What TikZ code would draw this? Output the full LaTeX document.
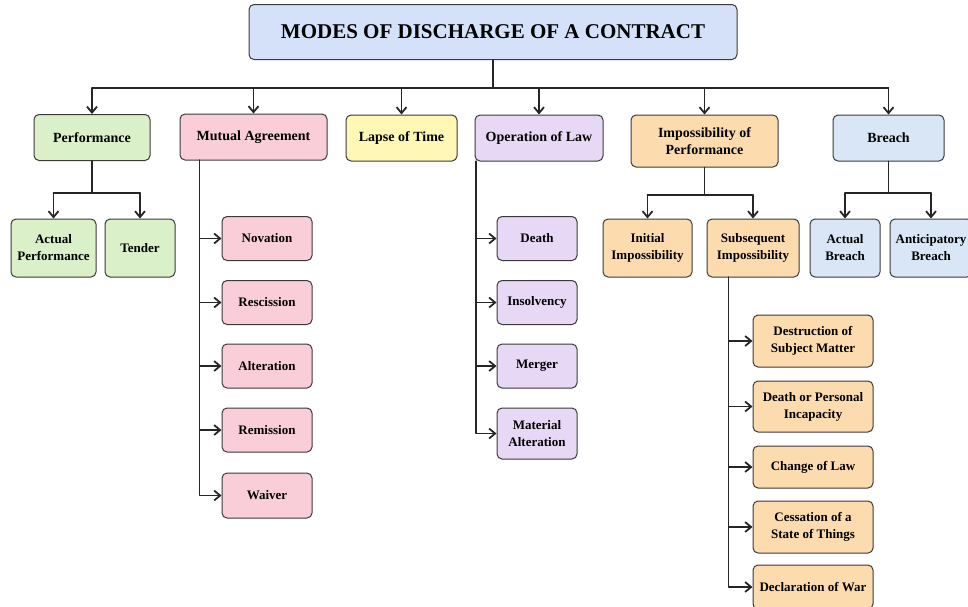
\documentclass[tikz,border=0pt]{standalone}
\usepackage{fontspec}
\setmainfont{Liberation Serif}
\usetikzlibrary{arrows.meta,calc}

\definecolor{titlefill}{HTML}{D5E1F8}
\definecolor{perffill}{HTML}{DAF0C8}
\definecolor{mutfill}{HTML}{F9CED8}
\definecolor{lapsefill}{HTML}{FFF7B5}
\definecolor{oplfill}{HTML}{E7D9F6}
\definecolor{impfill}{HTML}{FCDCAE}
\definecolor{brfill}{HTML}{D8E6F5}
\definecolor{edge}{HTML}{3A3A3A}

\tikzset{
  box/.style={draw=edge, line width=1pt, rounded corners=5pt, align=center,
    inner sep=2pt, font=\bfseries\fontsize{13}{17}\selectfont},
  head/.style={box, font=\bfseries\fontsize{14}{17}\selectfont},
  wire/.style={line width=1.8pt, draw=black!85},
  arr/.style={wire, -{Straight Barb[length=6pt,width=10pt]}},
}

\begin{document}
\begin{tikzpicture}[x=1pt, y=-1pt, line cap=round, line join=round]
  \useasboundingbox (0,0) rectangle (968,606);
  % Title and the six modes.
  \node[box, fill=titlefill, minimum width=488, minimum height=55,
    font=\bfseries\fontsize{21}{24}\selectfont] (title) at (493,32) {MODES OF DISCHARGE OF A CONTRACT};
  \node[head, fill=perffill, minimum width=116, minimum height=46] (perf) at (92,137.5) {Performance};
  \node[head, fill=mutfill, minimum width=147, minimum height=46] (mut) at (253.5,137) {Mutual Agreement};
  \node[head, fill=lapsefill, minimum width=111, minimum height=46] (lapse) at (401.5,138) {Lapse of Time};
  \node[head, fill=oplfill, minimum width=128, minimum height=46] (opl) at (539,138) {Operation of Law};
  \node[head, fill=impfill, minimum width=147, minimum height=52] (imp) at (704.5,141) {Impossibility of\\Performance};
  \node[head, fill=brfill, minimum width=111, minimum height=46] (breach) at (888.5,138) {Breach};
  \coordinate (bus) at (0,88);
  \draw[wire] (title.south) -- (title.south |- bus);
  \draw[wire] (perf.north |- bus) -- (breach.north |- bus);
  \foreach \n in {perf,mut,lapse,opl,imp,breach}
    \draw[arr] (\n.north |- bus) -- (\n.north);

  % Performance.
  \node[box, fill=perffill, minimum width=85, minimum height=58] (actperf) at (53.5,248) {Actual\\Performance};
  \node[box, fill=perffill, minimum width=70, minimum height=58] (tender) at (140,248) {Tender};
  \coordinate (pfork) at (0,193);
  \draw[wire] (perf.south) -- (perf.south |- pfork);
  \draw[wire] (actperf.north |- pfork) -- (tender.north |- pfork);
  \foreach \n in {actperf,tender}
    \draw[arr] (\n.north |- pfork) -- (\n.north);

  % Mutual agreement.
  \node[box, fill=mutfill, minimum width=90, minimum height=44] (nov) at (267,238.5) {Novation};
  \node[box, fill=mutfill, minimum width=90, minimum height=44] (resc) at (267,302.5) {Rescission};
  \node[box, fill=mutfill, minimum width=90, minimum height=44] (alt) at (267,366) {Alteration};
  \node[box, fill=mutfill, minimum width=90, minimum height=44] (rem) at (267,430) {Remission};
  \node[box, fill=mutfill, minimum width=90, minimum height=45] (waiv) at (267,495.5) {Waiver};
  \coordinate (mtrunk) at ($(mut.south west)+(20,0)$);
  \foreach \n in {nov,resc,alt,rem,waiv}
    \draw[arr] (mtrunk) |- (\n.west);

  % Operation of law.
  \node[box, fill=oplfill, minimum width=80, minimum height=44] (death) at (537,238.5) {Death};
  \node[box, fill=oplfill, minimum width=80, minimum height=44] (insol) at (537,302.5) {Insolvency};
  \node[box, fill=oplfill, minimum width=80, minimum height=44] (merger) at (537,366) {Merger};
  \node[box, fill=oplfill, minimum width=80, minimum height=51] (matalt) at (537,433.5) {Material\\Alteration};
  \coordinate (otrunk) at ($(opl.south west)+(1.5,0)$);
  \foreach \n in {death,insol,merger,matalt}
    \draw[arr] (otrunk) |- (\n.west);

  % Impossibility of performance.
  \node[box, fill=impfill, minimum width=89, minimum height=58] (initimp) at (647.5,248) {Initial\\Impossibility};
  \node[box, fill=impfill, minimum width=92, minimum height=58] (subimp) at (753,248) {Subsequent\\Impossibility};
  \coordinate (ifork) at (0,195);
  \draw[wire] (imp.south) -- (imp.south |- ifork);
  \draw[wire] (initimp.north |- ifork) -- (subimp.north |- ifork);
  \foreach \n in {initimp,subimp}
    \draw[arr] (\n.north |- ifork) -- (\n.north);

  \node[box, fill=impfill, minimum width=120, minimum height=52] (destr) at (813,341) {Destruction of\\Subject Matter};
  \node[box, fill=impfill, minimum width=120, minimum height=51] (deathpi) at (813,406.5) {Death or Personal\\Incapacity};
  \node[box, fill=impfill, minimum width=120, minimum height=42] (chlaw) at (813,467) {Change of Law};
  \node[box, fill=impfill, minimum width=120, minimum height=52] (cess) at (813,527) {Cessation of a\\State of Things};
  \node[box, fill=impfill, minimum width=120, minimum height=44] (decl) at (813,587) {Declaration of War};
  \coordinate (strunk) at ($(subimp.south west)+(22,0)$);
  \foreach \n in {destr,deathpi,chlaw,cess,decl}
    \draw[arr] (strunk) |- (\n.west);

  % Breach.
  \node[box, fill=brfill, minimum width=70, minimum height=58] (actbr) at (845,248) {Actual\\Breach};
  \node[box, fill=brfill, minimum width=82, minimum height=58] (antbr) at (931,248) {Anticipatory\\Breach};
  \coordinate (bfork) at (0,193);
  \draw[wire] (breach.south) -- (breach.south |- bfork);
  \draw[wire] (actbr.north |- bfork) -- (antbr.north |- bfork);
  \foreach \n in {actbr,antbr}
    \draw[arr] (\n.north |- bfork) -- (\n.north);
\end{tikzpicture}
\end{document}
